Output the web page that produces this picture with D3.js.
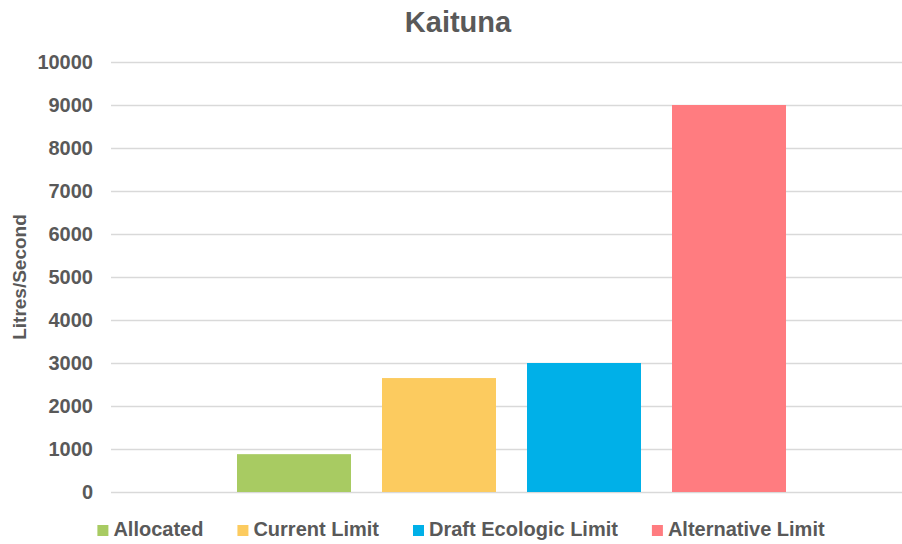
<!DOCTYPE html>
<html>
<head>
<meta charset="utf-8">
<script src="https://cdn.jsdelivr.net/npm/d3@7"></script>
<style>
  body { margin: 0; background: #fff; }
  text { font-family: "Liberation Sans", Arial, sans-serif; font-weight: bold; fill: #595959; }
</style>
</head>
<body>
<div id="chart"></div>
<script>
var width = 902;
var height = 544;

// data
var category = "Kaituna";
var series = ["Allocated", "Current Limit", "Draft Ecologic Limit", "Alternative Limit"];
var values = [880, 2650, 3000, 9000];
var colors = ["#A8CB62", "#FCCB5F", "#00B0E8", "#FF7C80"];
var yTicks = [0, 1000, 2000, 3000, 4000, 5000, 6000, 7000, 8000, 9000, 10000];

var margin = {left: 111, right: -10, top: 62, bottom: 52};

var svg = d3.select("#chart").append("svg")
    .attr("width", width)
    .attr("height", height);

var y = d3.scaleLinear()
    .domain([0, 10000])
    .range([height - margin.bottom, margin.top]);

// one category, four series side by side
var x0 = d3.scaleBand()
    .domain([category])
    .range([margin.left, width - margin.right])
    .paddingOuter(0.2295);

var x1 = d3.scaleBand()
    .domain(series)
    .range([x0(category), x0(category) + x0.bandwidth()])
    .paddingInner(0.2138);

var color = d3.scaleOrdinal().domain(series).range(colors);

// gridlines
var yAxis = d3.axisLeft(y)
    .tickValues(yTicks)
    .tickSize(-(width - margin.right - margin.left))
    .tickPadding(18)
    .tickFormat(d3.format("d"));

var gy = svg.append("g")
    .attr("transform", "translate(" + margin.left + ",0)")
    .call(yAxis);

gy.select(".domain").remove();
gy.selectAll(".tick line").attr("stroke", "#D9D9D9").attr("stroke-width", 1.5);
gy.selectAll(".tick text")
    .attr("font-size", "20px")
    .attr("fill", "#595959");

// bars
svg.append("g").selectAll("rect")
    .data(series)
  .enter().append("rect")
    .attr("x", function(d) { return x1(d); })
    .attr("y", function(d, i) { return y(values[i]); })
    .attr("width", x1.bandwidth())
    .attr("height", function(d, i) { return y(0) - y(values[i]); })
    .attr("fill", function(d) { return color(d); });

// title
svg.append("text")
    .attr("x", 458)
    .attr("y", 32)
    .attr("text-anchor", "middle")
    .attr("font-size", "29px")
    .text(category);

// y label
svg.append("text")
    .attr("transform", "translate(26," + ((y(0) + y(10000)) / 2) + ") rotate(-90)")
    .attr("text-anchor", "middle")
    .attr("font-size", "19px")
    .text("Litres/Second");

// legend
var legend = svg.append("g");
var item = legend.selectAll("g")
    .data(series)
  .enter().append("g");

item.append("rect")
    .attr("width", 11)
    .attr("height", 11)
    .attr("y", -11)
    .attr("fill", function(d) { return color(d); });

item.append("text")
    .attr("x", 16)
    .attr("y", 0)
    .attr("font-size", "20px")
    .text(function(d) { return d; });

var pos = 0;
item.each(function() {
    var w = this.querySelector("text").getComputedTextLength() + 16;
    d3.select(this).attr("transform", "translate(" + pos + ",0)");
    pos += w + 34;
});
pos -= 34;
legend.attr("transform", "translate(" + (461 - pos / 2) + ",536)");
</script>
</body>
</html>
